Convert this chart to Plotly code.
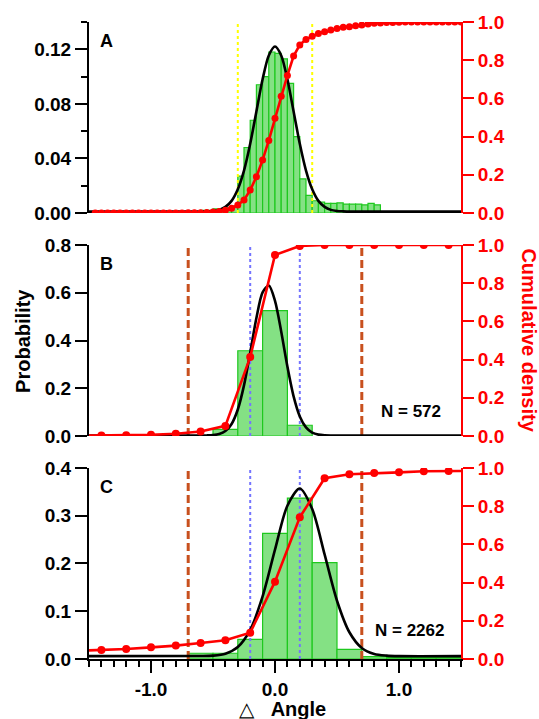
from plotly.subplots import make_subplots
import plotly.graph_objects as go

FONT = "Liberation Sans"

# ---- panel A (bins of 0.05) ----
a_bar_x = [-0.575, -0.525, -0.475, -0.425, -0.375, -0.325, -0.275, -0.225, -0.175, -0.125,
           -0.075, -0.025, 0.025, 0.075, 0.125, 0.175, 0.225, 0.275, 0.325, 0.375,
           0.425, 0.475, 0.525, 0.575, 0.625, 0.675, 0.725, 0.775, 0.825]
a_bar_y = [0.002, 0.002, 0.003, 0.003, 0.004, 0.005, 0.027, 0.048, 0.068, 0.094,
           0.100, 0.118, 0.117, 0.113, 0.095, 0.056, 0.025, 0.013, 0.009, 0.008,
           0.007, 0.007, 0.0075, 0.0065, 0.0065, 0.0065, 0.006, 0.007, 0.006]
a_cum_x = [-1.45, -1.40, -1.35, -1.30, -1.25, -1.20, -1.15, -1.10, -1.05, -1.00,
           -0.95, -0.90, -0.85, -0.80, -0.75, -0.70, -0.65, -0.60, -0.55, -0.50,
           -0.45, -0.40, -0.35, -0.30, -0.25, -0.20, -0.15, -0.10, -0.05, 0.00,
           0.05, 0.10, 0.15, 0.20, 0.25, 0.30, 0.35, 0.40, 0.45, 0.50,
           0.55, 0.60, 0.65, 0.70, 0.75, 0.80, 0.85, 0.90, 0.95, 1.00,
           1.05, 1.10, 1.15, 1.20, 1.25, 1.30, 1.35, 1.40, 1.45, 1.50]
a_cum_y = [0.0, 0.0, 0.0, 0.0, 0.0, 0.0, 0.0, 0.0, 0.0, 0.0,
           0.0, 0.0, 0.0, 0.0, 0.0, 0.001, 0.001, 0.002, 0.003, 0.005,
           0.008, 0.014, 0.025, 0.042, 0.068, 0.12, 0.19, 0.277, 0.38, 0.496,
           0.611, 0.72, 0.822, 0.88, 0.909, 0.925, 0.94, 0.949, 0.958, 0.966,
           0.972, 0.975, 0.98, 0.984, 0.989, 0.993, 0.995, 0.997, 0.998, 0.999,
           1.0, 1.0, 1.0, 1.0, 1.0, 1.0, 1.0, 1.0, 1.0, 1.0]
a_fit_x = [-1.5, -0.7, -0.6, -0.55, -0.5, -0.45, -0.4, -0.35, -0.3, -0.25, -0.2, -0.15,
           -0.1, -0.05, 0.0, 0.05, 0.1, 0.15, 0.2, 0.25, 0.3, 0.35, 0.4, 0.45, 0.5,
           0.55, 0.6, 0.7, 1.5]
a_fit_y = [0.001, 0.001, 0.001, 0.0012, 0.0015, 0.0023, 0.0045, 0.0089, 0.0174, 0.0311,
           0.0507, 0.0744, 0.098, 0.1155, 0.122, 0.1155, 0.098, 0.0744, 0.0507, 0.0311,
           0.0174, 0.0089, 0.0045, 0.0023, 0.0015, 0.0012, 0.001, 0.001, 0.001]
a_marks = [-0.3, 0.3]

# ---- panel B (bins of 0.2) ----
b_bar_x = [-0.4, -0.2, 0.0, 0.2]
b_bar_y = [0.028, 0.357, 0.525, 0.045]
b_cum_x = [-1.6, -1.4, -1.2, -1.0, -0.8, -0.6, -0.4, -0.2, 0.0, 0.2, 0.4, 0.6, 0.8, 1.0, 1.2, 1.4, 1.6]
b_cum_y = [0.002, 0.003, 0.004, 0.006, 0.012, 0.024, 0.053, 0.413, 0.948, 0.995,
           1.0, 1.0, 1.0, 1.0, 1.0, 1.0, 1.0]
b_fit_x = [-1.5, -0.6, -0.55, -0.5, -0.45, -0.4, -0.35, -0.3, -0.25, -0.2, -0.15, -0.1,
           -0.05, 0.0, 0.05, 0.1, 0.15, 0.2, 0.25, 0.3, 0.35, 0.4, 0.45, 0.5, 1.5]
b_fit_y = [0.002, 0.002, 0.0024, 0.0037, 0.008, 0.0206, 0.0505, 0.111, 0.212, 0.349,
           0.494, 0.602, 0.630, 0.566, 0.438, 0.291, 0.166, 0.082, 0.036, 0.014,
           0.0057, 0.003, 0.0022, 0.002, 0.002]
b_label = "N = 572"

# ---- panel C (bins of 0.2) ----
c_bar_x = [-0.6, -0.4, -0.2, 0.0, 0.2, 0.4, 0.6, 0.8, 1.0, 1.2, 1.4]
c_bar_y = [0.012, 0.012, 0.041, 0.263, 0.337, 0.202, 0.020, 0.005, 0.003, 0.003, 0.003]
c_cum_x = [-1.6, -1.4, -1.2, -1.0, -0.8, -0.6, -0.4, -0.2, 0.0, 0.2, 0.4, 0.6, 0.8, 1.0, 1.2, 1.4, 1.6]
c_cum_y = [0.043, 0.047, 0.052, 0.061, 0.070, 0.084, 0.098, 0.138, 0.405, 0.742,
           0.946, 0.967, 0.974, 0.977, 0.983, 0.984, 0.985]
c_fit_x = [-1.5, -0.6, -0.5, -0.4, -0.3, -0.2, -0.1, 0.0, 0.1, 0.2, 0.3, 0.4, 0.5,
           0.6, 0.7, 0.8, 0.9, 1.0, 1.5]
c_fit_y = [0.006, 0.0062, 0.007, 0.011, 0.025, 0.061, 0.131, 0.229, 0.321, 0.357,
           0.314, 0.219, 0.122, 0.056, 0.023, 0.0105, 0.007, 0.006, 0.006]
c_label = "N = 2262"

bc_outer = [-0.7, 0.7]
bc_inner = [-0.2, 0.2]

x_ticks = [-1.0, 0.0, 1.0]
x_ticktext = ["-1.0", "0.0", "1.0"]

GREEN_FILL = "#84e184"
GREEN_LINE = "#1ec81e"
RED = "#ff0000"
BROWN = "#c8501e"
BLUE = "#7474ff"
YELLOW = "#ffff00"

panels = [
    dict(bx=a_bar_x, by=a_bar_y, w=0.05, cx=a_cum_x, cy=a_cum_y, fx=a_fit_x, fy=a_fit_y,
         ymax=0.14, dtick=0.04, minor=0.02, fmt=".2f", letter="A", msize=7),
    dict(bx=b_bar_x, by=b_bar_y, w=0.2, cx=b_cum_x, cy=b_cum_y, fx=b_fit_x, fy=b_fit_y,
         ymax=0.8, dtick=0.2, minor=None, fmt=".1f", letter="B", msize=8),
    dict(bx=c_bar_x, by=c_bar_y, w=0.2, cx=c_cum_x, cy=c_cum_y, fx=c_fit_x, fy=c_fit_y,
         ymax=0.4, dtick=0.1, minor=None, fmt=".1f", letter="C", msize=8),
]

fig = make_subplots(rows=3, cols=1, shared_xaxes=True, vertical_spacing=0.0502,
                    specs=[[{"secondary_y": True}]] * 3)


def vlines(xs, ymax, color, dash, width, row):
    for xv in xs:
        fig.add_trace(go.Scatter(x=[xv, xv], y=[0, ymax], mode="lines",
                                 line=dict(color=color, dash=dash, width=width),
                                 hoverinfo="skip"), row=row, col=1, secondary_y=False)


for i, p in enumerate(panels):
    row = i + 1
    fig.add_trace(go.Bar(x=p["bx"], y=p["by"], width=p["w"],
                         marker=dict(color=GREEN_FILL, line=dict(color=GREEN_LINE, width=1.2))),
                  row=row, col=1, secondary_y=False)
    if row == 1:
        vlines(a_marks, p["ymax"], YELLOW, "dot", 2, row)
    else:
        vlines(bc_outer, p["ymax"], BROWN, "8px,4px", 3, row)
        vlines(bc_inner, p["ymax"], BLUE, "dot", 2, row)
    fig.add_trace(go.Scatter(x=p["fx"], y=p["fy"], mode="lines",
                             line=dict(color="black", width=2.6, shape="spline", smoothing=0.8)),
                  row=row, col=1, secondary_y=False)
    fig.add_trace(go.Scatter(x=p["cx"], y=p["cy"], mode="lines+markers",
                             line=dict(color=RED, width=2.6),
                             marker=dict(color=RED, size=p["msize"])),
                  row=row, col=1, secondary_y=True)

    yl = dict(range=[0, p["ymax"]], dtick=p["dtick"], tick0=0, tickformat=p["fmt"],
              showline=True, linecolor="black", linewidth=2, ticks="outside",
              ticklen=12, tickwidth=2, tickcolor="black", showgrid=False, zeroline=False,
              automargin=False,
              tickfont=dict(family=FONT, size=19, color="black", weight="bold"))
    if p["minor"]:
        yl["minor"] = dict(dtick=p["minor"], tick0=0, ticks="outside", ticklen=6,
                           tickwidth=2, tickcolor="black", showgrid=False)
    fig.update_yaxes(**yl, row=row, col=1, secondary_y=False)
    fig.update_yaxes(range=[0, 1.0], dtick=0.2, tick0=0, tickformat=".1f",
                     showline=True, linecolor=RED, linewidth=2, ticks="outside",
                     ticklen=11, tickwidth=2, tickcolor=RED, showgrid=False, zeroline=False,
                     automargin=False,
                     tickfont=dict(family=FONT, size=19, color=RED, weight="bold"),
                     row=row, col=1, secondary_y=True)

    yref = ["y", "y3", "y5"][i]
    fig.add_annotation(text=p["letter"], xref="x domain", yref=yref + " domain",
                       x=0.047, y=0.9, xanchor="center", yanchor="middle", showarrow=False,
                       font=dict(family=FONT, size=18, color="black", weight="bold"))

fig.add_annotation(text=b_label, xref="x domain", yref="y3 domain", x=0.866, y=0.128,
                   xanchor="center", yanchor="middle", showarrow=False,
                   font=dict(family=FONT, size=17, color="black", weight="bold"))
fig.add_annotation(text=c_label, xref="x domain", yref="y5 domain", x=0.861, y=0.147,
                   xanchor="center", yanchor="middle", showarrow=False,
                   font=dict(family=FONT, size=17, color="black", weight="bold"))

fig.update_xaxes(range=[-1.5, 1.5], domain=[0, 1], showgrid=False, zeroline=False,
                 showline=False, ticks="", showticklabels=False, automargin=False)
fig.update_xaxes(showline=True, linecolor="black", linewidth=2, ticks="outside", ticklen=12,
                 tickwidth=2, tickcolor="black", showticklabels=True,
                 tickvals=x_ticks, ticktext=x_ticktext,
                 tickfont=dict(family=FONT, size=19, color="black", weight="bold"),
                 minor=dict(dtick=0.1, tick0=0, ticks="outside", ticklen=6, tickwidth=2,
                            tickcolor="black", showgrid=False),
                 row=3, col=1)

fig.add_annotation(text="Probability", xref="paper", yref="paper", x=-0.179, y=0.5,
                   xanchor="center", yanchor="middle", textangle=-90, showarrow=False,
                   font=dict(family=FONT, size=20, color="black", weight="bold"))
fig.add_annotation(text="Cumulative density", xref="paper", yref="paper", x=1.183, y=0.5,
                   xanchor="center", yanchor="middle", textangle=90, showarrow=False,
                   font=dict(family=FONT, size=20, color=RED, weight="bold"))
fig.add_annotation(text="△&nbsp;&nbsp;&nbsp;<b>Angle</b>", xref="paper", yref="paper",
                   x=(282 - 89) / 372, y=-0.0785, xanchor="center", yanchor="middle",
                   showarrow=False, font=dict(family=FONT, size=20, color="black"))

fig.update_layout(width=539, height=719, margin=dict(l=89, r=78, t=22, b=60, autoexpand=False),
                  autosize=False, plot_bgcolor="white", paper_bgcolor="white", showlegend=False,
                  barmode="overlay")

fig.write_html("out.html", config={"responsive": False, "displayModeBar": False},
               post_script="document.body.style.margin='0';document.body.style.overflow='hidden';")
